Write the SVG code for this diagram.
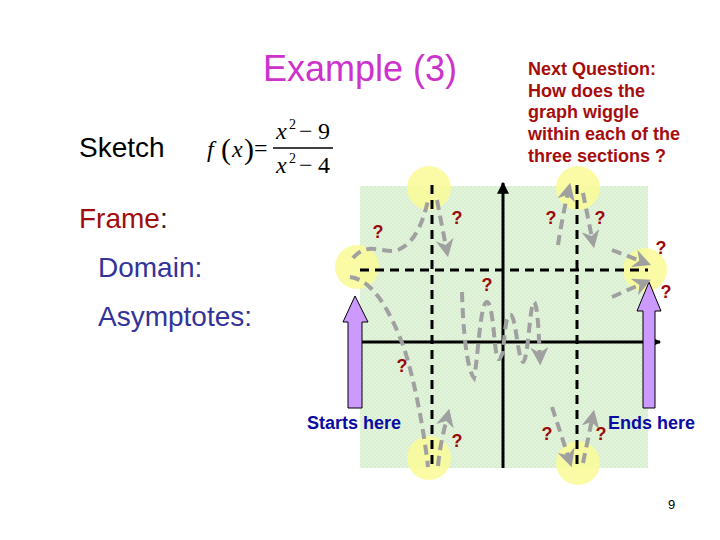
<svg xmlns="http://www.w3.org/2000/svg" width="720" height="540" viewBox="0 0 720 540">
<style>
.t{font-family:"Liberation Sans",Arial,sans-serif}
.q{font-family:"Liberation Sans",Arial,sans-serif;font-weight:bold;font-size:18px;fill:#9b0a0a;text-anchor:middle}
.m{font-family:"Liberation Serif","Times New Roman",serif;fill:#000}
.dash{stroke:#000;stroke-width:3;stroke-dasharray:9 6;fill:none}
.g{stroke:#a0a0a0;stroke-width:4;stroke-dasharray:10 6;fill:none}
.ga{stroke:#a0a0a0;stroke-width:4;stroke-dasharray:10 6;fill:none;marker-end:url(#ah)}
.c{fill:#fafa96;opacity:0.85}
.pa{fill:#cc99ff;stroke:#000;stroke-width:1}
</style>
<defs>
<marker id="ah" viewBox="0 0 10 10" refX="7" refY="5" markerWidth="4.5" markerHeight="4.5" orient="auto" markerUnits="strokeWidth">
<path d="M0,0 L10,5 L0,10 L3,5 Z" fill="#a0a0a0"/>
</marker>
<marker id="ax" viewBox="0 0 10 10" refX="9" refY="5" markerWidth="4" markerHeight="4" orient="auto" markerUnits="strokeWidth">
<path d="M0,0 L10,5 L0,10 Z" fill="#000"/>
</marker>
<pattern id="gp" width="4" height="4" patternUnits="userSpaceOnUse">
<rect width="4" height="4" fill="#e4f4dc"/>
<rect width="2" height="2" fill="#d8efd2"/>
<rect x="2" y="2" width="2" height="2" fill="#d8efd2"/>
</pattern>
</defs>
<rect width="720" height="540" fill="#fff"/>

<g id="title">
<text class="t" x="263" y="81" font-size="36" fill="#cc33cc">Example (3)</text>
</g>
<g id="next-question" class="t" font-size="18" font-weight="bold" fill="#a50d0d">
<text x="528" y="75">Next Question:</text>
<text x="528" y="97">How does the</text>
<text x="528" y="118">graph wiggle</text>
<text x="528" y="140">within each of the</text>
<text x="528" y="162">three sections ?</text>
</g>
<g id="left-text" class="t" font-size="28">
<text x="79" y="157" fill="#000">Sketch</text>
<text x="79" y="228"><tspan fill="#a00c0c">Frame</tspan><tspan fill="#222">:</tspan></text>
<text x="98" y="277" fill="#333399">Domain:</text>
<text x="98" y="326" fill="#333399">Asymptotes:</text>
</g>
<g id="formula">
<text class="m" x="207" y="157" style="font-size:24px;font-style:italic">f</text>
<text class="m" x="221" y="159" style="font-size:30px">(</text>
<text class="m" x="232" y="157" style="font-size:24px;font-style:italic">x</text>
<text class="m" x="244" y="159" style="font-size:30px">)</text>
<text class="m" x="254" y="156" style="font-size:24px">=</text>
<line x1="273" y1="148" x2="333" y2="148" stroke="#000" stroke-width="1.3"/>
<text class="m" x="276" y="139" style="font-size:24px;font-style:italic">x</text>
<text class="m" x="289" y="129" style="font-size:14px">2</text>
<text class="m" x="299" y="139" style="font-size:24px">−</text>
<text class="m" x="318" y="139" style="font-size:24px">9</text>
<text class="m" x="276" y="173" style="font-size:24px;font-style:italic">x</text>
<text class="m" x="289" y="163" style="font-size:14px">2</text>
<text class="m" x="299" y="173" style="font-size:24px">−</text>
<text class="m" x="318" y="173" style="font-size:24px">4</text>
</g>

<g id="graph-area">
<rect x="360" y="186" width="288" height="282" fill="url(#gp)"/>
</g>
<g id="circles">
<circle class="c" cx="429" cy="188" r="22"/>
<circle class="c" cx="357" cy="267" r="22"/>
<circle class="c" cx="578" cy="188" r="22"/>
<circle class="c" cx="645" cy="270" r="22"/>
<circle class="c" cx="429" cy="458" r="22"/>
<circle class="c" cx="578" cy="463" r="22"/>
</g>
<g id="axes">
<line x1="503" y1="468" x2="503" y2="183" stroke="#000" stroke-width="3" marker-end="url(#ax)"/>
<line x1="362" y1="342" x2="660" y2="342" stroke="#000" stroke-width="3" marker-end="url(#ax)"/>
<line class="dash" x1="432" y1="185" x2="432" y2="468"/>
<line class="dash" x1="577" y1="185" x2="577" y2="468"/>
<line class="dash" x1="360" y1="270" x2="648" y2="270"/>
</g>
<g id="start-arrow">
<path class="pa" d="M348,408 L348,322 L343,322 L355,296 L368,322 L362,322 L362,408 Z"/>
</g>
<g id="end-arrow">
<path class="pa" d="M643,408 L643,311 L637,311 L649,282 L661,311 L655,311 L655,408 Z"/>
</g>
<g id="connectors">
<path class="g" d="M353,258 C368,240 385,255 398,250 C412,244 422,228 428,200"/>
<path class="ga" d="M437,200 L447,252"/>
<path class="ga" d="M558,245 C561,225 565,205 569,188"/>
<path class="ga" d="M583,193 L593,243"/>
<path class="ga" d="M612,250 L646,263"/>
<path class="ga" d="M612,297 L646,282"/>
<path class="g" d="M350,277 C375,280 393,318 404,348 C414,378 424,430 428,467"/>
<path class="ga" d="M438,466 C440,445 444,430 448,414"/>
<path class="ga" d="M552,407 L570,462"/>
<path class="ga" d="M583,463 L593,415"/>
<path class="ga" d="M462,292 C463,330 467,370 474,378 C478,360 480,302 487,302 C493,303 494,345 497,357 C499,362 501,357 503,352 C505,330 506,313 511,315 C516,318 518,360 523,362 C528,362 530,302 534,302 C538,304 539,340 540,360"/>
</g>
<g id="question-marks">
<text class="q" x="378" y="238">?</text>
<text class="q" x="457" y="224">?</text>
<text class="q" x="551" y="224">?</text>
<text class="q" x="600" y="224">?</text>
<text class="q" x="661" y="254">?</text>
<text class="q" x="487" y="291">?</text>
<text class="q" x="666" y="298">?</text>
<text class="q" x="402" y="372">?</text>
<text class="q" x="457" y="447">?</text>
<text class="q" x="547" y="440">?</text>
<text class="q" x="601" y="440">?</text>
</g>
<g id="labels" class="t" font-size="18" font-weight="bold" fill="#0a0aa5">
<text x="307" y="429">Starts here</text>
<text x="608" y="429">Ends here</text>
</g>
<text class="t" x="668" y="509" font-size="13" fill="#000">9</text>
</svg>
